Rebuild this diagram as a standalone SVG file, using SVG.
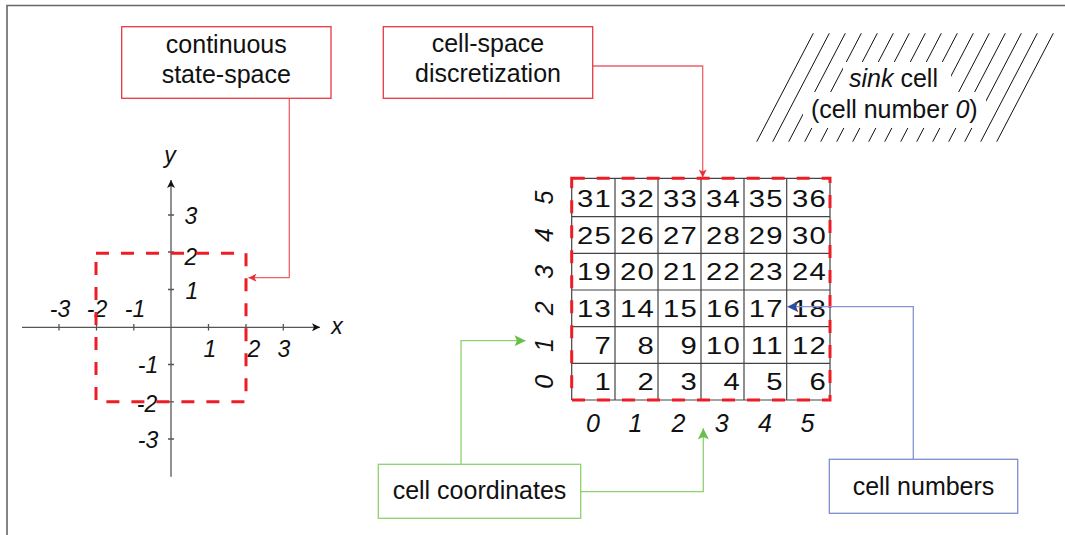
<svg xmlns="http://www.w3.org/2000/svg" width="1065" height="535" viewBox="0 0 1065 535">
<style>
text{font-family:"Liberation Sans",Arial,sans-serif;fill:#111}
.lbl{font-size:25px;text-anchor:middle}
.ax{font-size:23px;font-style:italic;text-anchor:middle}
.crd{font-size:25px;font-style:italic;text-anchor:middle}
.num{font-size:24px;text-anchor:end;letter-spacing:1px}
.box{fill:#fff;stroke-width:1.3}
.redbox{stroke:#e8383f}
.greenbox{stroke:#8fd16f}
.bluebox{stroke:#7b8fcf}
.dash{fill:none;stroke:#ee1c25;stroke-width:3;stroke-dasharray:13 12}
.axis{stroke:#555;stroke-width:1.3;fill:none}
.grid{stroke:#444;stroke-width:1.2;fill:none}
.hatch{stroke:#111;stroke-width:1}
.conn{fill:none;stroke-width:1.3}
</style>
<defs>
<marker id="axArrow" viewBox="0 0 10 10" refX="10" refY="5" markerWidth="11" markerHeight="8" markerUnits="userSpaceOnUse" orient="auto"><path d="M0,0 L10,5 L0,10 L2.5,5 z" fill="#111"/></marker>
<marker id="redArrow" viewBox="0 0 10 10" refX="10" refY="5" markerWidth="9" markerHeight="8" markerUnits="userSpaceOnUse" orient="auto"><path d="M0,0 L10,5 L0,10 L2.5,5 z" fill="#e8303a"/></marker>
<marker id="greenArrow" viewBox="0 0 10 10" refX="10" refY="5" markerWidth="15" markerHeight="11" markerUnits="userSpaceOnUse" orient="auto"><path d="M0,0 L10,5 L0,10 L2,5 z" fill="#6abf4b"/></marker>
<marker id="blueArrow" viewBox="0 0 10 10" refX="10" refY="5" markerWidth="13" markerHeight="11" markerUnits="userSpaceOnUse" orient="auto"><path d="M0,0 L10,5 L0,10 L2,5 z" fill="#2d4e9e"/></marker>
</defs>
<path d="M7,535 V5.5 H1065" fill="none" stroke="#666" stroke-width="1.6"/>

<g id="axes">
<line class="axis" x1="22" y1="327.3" x2="320" y2="327.3" marker-end="url(#axArrow)"/>
<line class="axis" x1="171" y1="476.7" x2="171" y2="180" marker-end="url(#axArrow)"/>
<path class="axis" d="M59,324 V330.5 M96.5,324 V330.5 M133.8,324 V330.5 M208.5,324 V330.5 M246,324 V330.5 M283.3,324 V330.5 M168,215 H174 M168,252 H174 M168,289.5 H174 M168,364.5 H174 M168,401.8 H174 M168,439 H174"/>
<text class="ax" x="60" y="317">-3</text>
<text class="ax" x="97" y="317">-2</text>
<text class="ax" x="135" y="317">-1</text>
<text class="ax" x="210" y="357.3">1</text>
<text class="ax" x="254" y="357.3">2</text>
<text class="ax" x="284" y="357.3">3</text>
<text class="ax" x="191" y="224">3</text>
<text class="ax" x="191" y="265">2</text>
<text class="ax" x="192" y="299.3">1</text>
<text class="ax" x="148" y="373.3">-1</text>
<text class="ax" x="147" y="411.7">-2</text>
<text class="ax" x="148" y="448">-3</text>
<text class="ax" x="337" y="334">x</text>
<text class="ax" x="170" y="163">y</text>
</g>
<g id="continuous-region">
<rect class="dash" x="96" y="253.3" width="150" height="148.4"/>
</g>

<g id="cell-grid">
<path class="grid" d="M571.7,178.3 H830 M571.7,216.7 H830 M571.7,253.3 H830 M571.7,290 H830 M571.7,326.7 H830 M571.7,363.3 H830 M571.7,400 H830 M571.7,178.3 V400 M615,178.3 V400 M658,178.3 V400 M701,178.3 V400 M744,178.3 V400 M786.7,178.3 V400 M830,178.3 V400"/>
<g>
<text class="num" transform="matrix(1.22,0,0,1,612,207)">31</text>
<text class="num" transform="matrix(1.22,0,0,1,655,207)">32</text>
<text class="num" transform="matrix(1.22,0,0,1,698,207)">33</text>
<text class="num" transform="matrix(1.22,0,0,1,741,207)">34</text>
<text class="num" transform="matrix(1.22,0,0,1,783.7,207)">35</text>
<text class="num" transform="matrix(1.22,0,0,1,827,207)">36</text>
<text class="num" transform="matrix(1.22,0,0,1,612,243.7)">25</text>
<text class="num" transform="matrix(1.22,0,0,1,655,243.7)">26</text>
<text class="num" transform="matrix(1.22,0,0,1,698,243.7)">27</text>
<text class="num" transform="matrix(1.22,0,0,1,741,243.7)">28</text>
<text class="num" transform="matrix(1.22,0,0,1,783.7,243.7)">29</text>
<text class="num" transform="matrix(1.22,0,0,1,827,243.7)">30</text>
<text class="num" transform="matrix(1.22,0,0,1,612,280.4)">19</text>
<text class="num" transform="matrix(1.22,0,0,1,655,280.4)">20</text>
<text class="num" transform="matrix(1.22,0,0,1,698,280.4)">21</text>
<text class="num" transform="matrix(1.22,0,0,1,741,280.4)">22</text>
<text class="num" transform="matrix(1.22,0,0,1,783.7,280.4)">23</text>
<text class="num" transform="matrix(1.22,0,0,1,827,280.4)">24</text>
<text class="num" transform="matrix(1.22,0,0,1,612,317)">13</text>
<text class="num" transform="matrix(1.22,0,0,1,655,317)">14</text>
<text class="num" transform="matrix(1.22,0,0,1,698,317)">15</text>
<text class="num" transform="matrix(1.22,0,0,1,741,317)">16</text>
<text class="num" transform="matrix(1.22,0,0,1,783.7,317)">17</text>
<text class="num" transform="matrix(1.22,0,0,1,827,317)">18</text>
<text class="num" transform="matrix(1.22,0,0,1,612,353.7)">7</text>
<text class="num" transform="matrix(1.22,0,0,1,655,353.7)">8</text>
<text class="num" transform="matrix(1.22,0,0,1,698,353.7)">9</text>
<text class="num" transform="matrix(1.22,0,0,1,741,353.7)">10</text>
<text class="num" transform="matrix(1.22,0,0,1,783.7,353.7)">11</text>
<text class="num" transform="matrix(1.22,0,0,1,827,353.7)">12</text>
<text class="num" transform="matrix(1.22,0,0,1,612,390.4)">1</text>
<text class="num" transform="matrix(1.22,0,0,1,655,390.4)">2</text>
<text class="num" transform="matrix(1.22,0,0,1,698,390.4)">3</text>
<text class="num" transform="matrix(1.22,0,0,1,741,390.4)">4</text>
<text class="num" transform="matrix(1.22,0,0,1,783.7,390.4)">5</text>
<text class="num" transform="matrix(1.22,0,0,1,827,390.4)">6</text>
</g>
<rect class="dash" x="571.7" y="178.3" width="258.3" height="221.7"/>
<text class="crd" transform="translate(553,197.5) rotate(-90)">5</text>
<text class="crd" transform="translate(553,235) rotate(-90)">4</text>
<text class="crd" transform="translate(553,271.7) rotate(-90)">3</text>
<text class="crd" transform="translate(553,308.3) rotate(-90)">2</text>
<text class="crd" transform="translate(553,345) rotate(-90)">1</text>
<text class="crd" transform="translate(553,381.7) rotate(-90)">0</text>
<text class="crd" x="593" y="431.7">0</text>
<text class="crd" x="635.5" y="431.7">1</text>
<text class="crd" x="678.5" y="431.7">2</text>
<text class="crd" x="721.7" y="431.7">3</text>
<text class="crd" x="765" y="431.7">4</text>
<text class="crd" x="807.5" y="431.7">5</text>
</g>

<g id="sink-cell">
<g class="hatch">
<line x1="756.7" y1="141.7" x2="813.3" y2="33.3"/>
<line x1="772.7" y1="141.7" x2="829.3" y2="33.3"/>
<line x1="788.7" y1="141.7" x2="845.3" y2="33.3"/>
<line x1="804.7" y1="141.7" x2="861.3" y2="33.3"/>
<line x1="820.7" y1="141.7" x2="877.3" y2="33.3"/>
<line x1="836.7" y1="141.7" x2="893.3" y2="33.3"/>
<line x1="852.7" y1="141.7" x2="909.3" y2="33.3"/>
<line x1="868.7" y1="141.7" x2="925.3" y2="33.3"/>
<line x1="884.7" y1="141.7" x2="941.3" y2="33.3"/>
<line x1="900.7" y1="141.7" x2="957.3" y2="33.3"/>
<line x1="916.7" y1="141.7" x2="973.3" y2="33.3"/>
<line x1="932.7" y1="141.7" x2="989.3" y2="33.3"/>
<line x1="948.7" y1="141.7" x2="1005.3" y2="33.3"/>
<line x1="964.7" y1="141.7" x2="1021.3" y2="33.3"/>
<line x1="980.7" y1="141.7" x2="1037.3" y2="33.3"/>
<line x1="996.7" y1="141.7" x2="1053.3" y2="33.3"/>
</g>
<rect x="843" y="62" width="108" height="31" fill="#fff"/>
<rect x="803" y="92" width="183" height="36" fill="#fff"/>
<text class="lbl" x="893.5" y="86.7"><tspan font-style="italic">sink</tspan> cell</text>
<text class="lbl" x="894.3" y="118.3">(cell number <tspan font-style="italic">0</tspan>)</text>
</g>

<g id="connectors">
<polyline class="conn" points="289.3,98.3 289.3,277.7 248.5,277.7" stroke="#f0606a" marker-end="url(#redArrow)"/>
<polyline class="conn" points="592.7,66 702.7,66 702.7,177.5" stroke="#f0606a" marker-end="url(#redArrow)"/>
<polyline class="conn" points="461,464.3 461,340.7 525.7,340.7" stroke="#8fd16f" marker-end="url(#greenArrow)"/>
<polyline class="conn" points="580.7,491.7 703.3,491.7 703.3,428.3" stroke="#8fd16f" marker-end="url(#greenArrow)"/>
<polyline class="conn" points="913.3,459.3 913.3,306.7 787.3,306.7" stroke="#8595d2" marker-end="url(#blueArrow)"/>
</g>

<g id="continuous-label">
<rect class="box redbox" x="121.7" y="26.7" width="209.3" height="71.6"/>
<text class="lbl" x="226.3" y="53">continuous</text>
<text class="lbl" x="226.3" y="82.5">state-space</text>
</g>
<g id="discretization-label">
<rect class="box redbox" x="383.3" y="26.7" width="209.4" height="71.6"/>
<text class="lbl" x="488" y="52">cell-space</text>
<text class="lbl" x="488" y="82">discretization</text>
</g>
<g id="coordinates-label">
<rect class="box greenbox" x="378.3" y="464.3" width="202.4" height="54"/>
<text class="lbl" x="479.5" y="499">cell coordinates</text>
</g>
<g id="numbers-label">
<rect class="box bluebox" x="829.3" y="459.3" width="188.4" height="54"/>
<text class="lbl" x="923.5" y="495">cell numbers</text>
</g>
</svg>
